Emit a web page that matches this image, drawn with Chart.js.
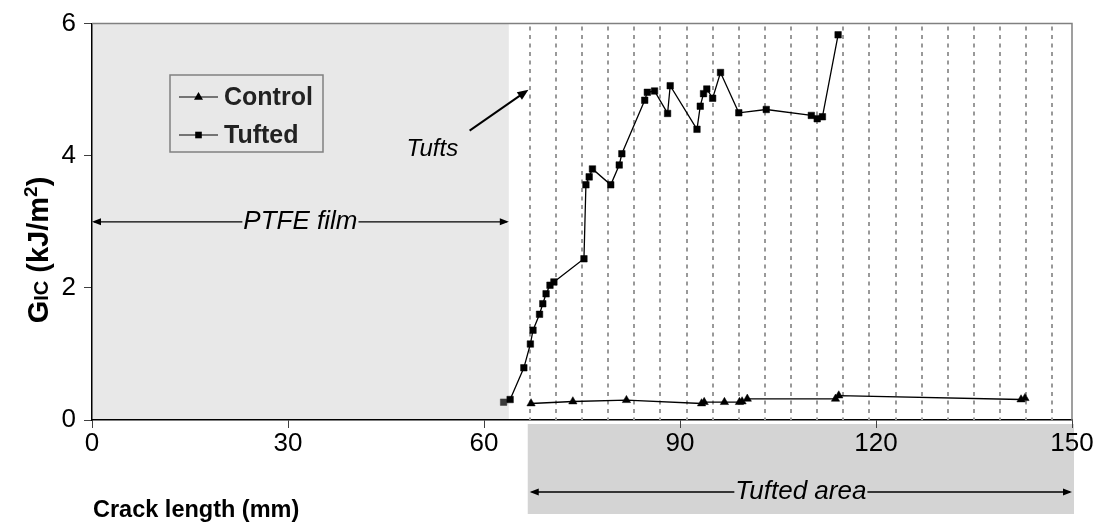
<!DOCTYPE html>
<html><head><meta charset="utf-8">
<script src="https://cdn.jsdelivr.net/npm/chart.js@4/dist/chart.umd.min.js"></script>
<style>html,body{margin:0;padding:0;background:#fff;}#wrap{width:1106px;height:531px;position:relative;}</style>
</head><body><div id="wrap"><canvas id="c" width="1106" height="531" style="width:1106px;height:531px"></canvas></div>
<script>
// ---- data ----
const tuftedX = [63.0,64.0,66.1,67.1,67.5,68.5,69.0,69.5,70.1,70.7,75.3,75.6,76.1,76.6,79.4,80.7,81.1,84.6,85.0,86.1,88.1,88.5,92.6,93.1,93.6,94.1,95.0,96.2,99.0,103.2,110.1,111.0,111.8,114.2];
const tuftedY = [0.27,0.31,0.79,1.15,1.36,1.60,1.76,1.91,2.04,2.09,2.44,3.56,3.68,3.80,3.56,3.86,4.03,4.84,4.96,4.98,4.64,5.06,4.40,4.75,4.94,5.01,4.87,5.26,4.65,4.70,4.61,4.56,4.59,5.83];
const controlX = [67.2,73.6,81.8,93.3,93.7,96.8,99.1,99.5,100.3,113.8,114.3,142.2,142.8];
const controlY = [0.25,0.28,0.30,0.25,0.27,0.27,0.27,0.28,0.32,0.32,0.37,0.31,0.33];
const xTicks = [0,30,60,90,120,150];
const yTicks = [0,2,4,6];
const tuftPositions = [67,71,75,79,83,87,91,95,99,103,107,111,115,119,123,127,131,135,139,143,147];
const ptfeEnd = 63.8;
const tuftedAreaStart = 67;
const seriesNames = ['Control','Tufted'];

const FONT = "'Liberation Sans', Arial, sans-serif";

function arrowHead(ctx, x1, y1, x2, y2, len, half) {
  const a = Math.atan2(y2 - y1, x2 - x1);
  ctx.beginPath();
  ctx.moveTo(x2, y2);
  ctx.lineTo(x2 - len * Math.cos(a) + half * Math.sin(a), y2 - len * Math.sin(a) - half * Math.cos(a));
  ctx.lineTo(x2 - len * Math.cos(a) - half * Math.sin(a), y2 - len * Math.sin(a) + half * Math.cos(a));
  ctx.closePath();
  ctx.fill();
}
function hArrowWithText(ctx, xl, xr, y, text, font) {
  ctx.font = font;
  const w = ctx.measureText(text).width;
  const xm = (xl + xr) / 2;
  ctx.fillStyle = '#000'; ctx.strokeStyle = '#000'; ctx.lineWidth = 1.3;
  ctx.beginPath();
  ctx.moveTo(xl + 2, y); ctx.lineTo(xm - w / 2 - 1, y);
  ctx.moveTo(xm + w / 2 + 1, y); ctx.lineTo(xr - 2, y);
  ctx.stroke();
  arrowHead(ctx, xr - 5, y, xl, y, 9, 3.5);
  arrowHead(ctx, xl + 5, y, xr, y, 9, 3.5);
  ctx.textAlign = 'center'; ctx.textBaseline = 'middle';
  ctx.fillText(text, xm, y);
}

const decor = {
  id: 'decor',
  beforeDraw(chart) {
    const {ctx, chartArea: ca, scales: {x}} = chart;
    ctx.save();
    ctx.fillStyle = '#fff';
    ctx.fillRect(0, 0, chart.width, chart.height);
    ctx.fillStyle = '#e8e8e8';
    const xe = x.getPixelForValue(ptfeEnd);
    ctx.fillRect(ca.left, ca.top, xe - ca.left, ca.bottom - ca.top);
    ctx.fillStyle = '#d4d4d4';
    const xs = x.getPixelForValue(tuftedAreaStart) - 2;
    ctx.fillRect(xs, ca.bottom + 4, ca.right + 2 - xs, 514 - ca.bottom - 4);
    ctx.restore();
  },
  beforeDatasetsDraw(chart) {
    const {ctx, chartArea: ca, scales: {x}} = chart;
    ctx.save();
    ctx.strokeStyle = '#999'; ctx.lineWidth = 2; ctx.setLineDash([4, 4.5]);
    tuftPositions.forEach(v => {
      const px = Math.round(x.getPixelForValue(v));
      ctx.beginPath(); ctx.moveTo(px, ca.top + 3); ctx.lineTo(px, ca.bottom); ctx.stroke();
    });
    ctx.setLineDash([]);
    ctx.strokeStyle = '#808080'; ctx.lineWidth = 1.5;
    ctx.beginPath(); ctx.moveTo(ca.left, ca.top); ctx.lineTo(ca.right, ca.top); ctx.lineTo(ca.right, ca.bottom); ctx.stroke();
    ctx.restore();
  },
  afterDraw(chart) {
    const {ctx, chartArea: ca, scales: {x, y}} = chart;
    ctx.save();
    hArrowWithText(ctx, ca.left, x.getPixelForValue(ptfeEnd), y.getPixelForValue(3), 'PTFE film', 'italic 26px ' + FONT);
    hArrowWithText(ctx, x.getPixelForValue(tuftedAreaStart), ca.right, 492, 'Tufted area', 'italic 26px ' + FONT);
    ctx.font = 'italic 24px ' + FONT; ctx.fillStyle = '#000';
    ctx.textAlign = 'center'; ctx.textBaseline = 'middle';
    ctx.fillText('Tufts', x.getPixelForValue(52.1), y.getPixelForValue(4.1));
    const ax1 = x.getPixelForValue(57.8), ay1 = y.getPixelForValue(4.38);
    const ax2 = x.getPixelForValue(66.8), ay2 = y.getPixelForValue(5.0);
    ctx.strokeStyle = '#000'; ctx.lineWidth = 2;
    ctx.beginPath(); ctx.moveTo(ax1, ay1); ctx.lineTo(ax2 - 6, ay2 + 4.2); ctx.stroke();
    arrowHead(ctx, ax1, ay1, ax2, ay2, 11, 4.5);
    const lx = 170, ly = 75, lw = 153, lh = 77;
    ctx.fillStyle = '#e8e8e8'; ctx.fillRect(lx, ly, lw, lh);
    ctx.strokeStyle = '#808080'; ctx.lineWidth = 1.5; ctx.strokeRect(lx, ly, lw, lh);
    const rows = [{name: seriesNames[0], y: 97, shape: 'tri'}, {name: seriesNames[1], y: 135, shape: 'sq'}];
    rows.forEach(r => {
      ctx.strokeStyle = '#000'; ctx.lineWidth = 1.2;
      ctx.beginPath(); ctx.moveTo(179, r.y); ctx.lineTo(218, r.y); ctx.stroke();
      ctx.fillStyle = '#000';
      if (r.shape === 'tri') {
        ctx.beginPath(); ctx.moveTo(198.5, r.y - 5); ctx.lineTo(203, r.y + 2.8); ctx.lineTo(194, r.y + 2.8); ctx.closePath(); ctx.fill();
      } else {
        ctx.fillRect(195.2, r.y - 3.3, 6.6, 6.6);
      }
      ctx.font = 'bold 25px ' + FONT; ctx.fillStyle = '#222';
      ctx.textAlign = 'left'; ctx.textBaseline = 'middle';
      ctx.fillText(r.name, 224, r.y + 1);
    });
    const parts = [
      {t: 'G', f: 'bold 29px ' + FONT, dy: 0},
      {t: 'IC', f: 'bold 20px ' + FONT, dy: 0},
      {t: ' (kJ/m', f: 'bold 29px ' + FONT, dy: 0},
      {t: '2', f: 'bold 19px ' + FONT, dy: -11},
      {t: ')', f: 'bold 29px ' + FONT, dy: 0}
    ];
    let total = 0;
    parts.forEach(p => { ctx.font = p.f; p.w = ctx.measureText(p.t).width; total += p.w; });
    ctx.translate(48, 250); ctx.rotate(-Math.PI / 2);
    ctx.fillStyle = '#000'; ctx.textAlign = 'left'; ctx.textBaseline = 'alphabetic';
    let cx = -total / 2;
    parts.forEach(p => { ctx.font = p.f; ctx.fillText(p.t, cx, p.dy); cx += p.w; });
    ctx.setTransform(1, 0, 0, 1, 0, 0);
    ctx.font = 'bold 23.5px ' + FONT; ctx.fillStyle = '#000';
    ctx.textAlign = 'left'; ctx.textBaseline = 'middle';
    ctx.fillText('Crack length (mm)', 93, 511);
    ctx.restore();
  }
};

const pts = (xs, ys) => xs.map((v, i) => ({x: v, y: ys[i]}));

new Chart(document.getElementById('c'), {
  type: 'scatter',
  data: {
    datasets: [
      {label: seriesNames[0], data: pts(controlX, controlY), showLine: true, borderColor: '#000', borderWidth: 1.3,
       pointStyle: 'triangle', pointRadius: 4.8, pointBackgroundColor: '#000', pointBorderColor: '#000', pointBorderWidth: 0.5},
      {label: seriesNames[1], data: pts(tuftedX, tuftedY), showLine: true, borderColor: '#000', borderWidth: 1.3,
       pointStyle: 'rect', pointRadius: 4.6, pointBackgroundColor: tuftedX.map((v, i) => i === 0 ? '#3a3a3a' : '#000'),
       pointBorderColor: tuftedX.map((v, i) => i === 0 ? '#3a3a3a' : '#000'), pointBorderWidth: 0.5}
    ]
  },
  options: {
    responsive: false, animation: false, devicePixelRatio: 1,
    layout: {padding: {left: 0, top: 20, right: 34, bottom: 0}},
    plugins: {legend: {display: false}, tooltip: {enabled: false}},
    scales: {
      x: {
        type: 'linear', min: 0, max: 150,
        afterBuildTicks: s => { s.ticks = xTicks.map(v => ({value: v})); },
        afterFit: s => { s.height = 111; },
        grid: {drawOnChartArea: false, drawTicks: true, tickLength: 8, color: '#404040', lineWidth: 1},
        border: {display: true, color: '#000', width: 1.5},
        ticks: {padding: 0, color: '#000', font: {family: FONT, size: 26}, maxRotation: 0, autoSkip: false}
      },
      y: {
        type: 'linear', min: 0, max: 6,
        afterBuildTicks: s => { s.ticks = yTicks.map(v => ({value: v})); },
        afterFit: s => { s.width = 92; },
        grid: {drawOnChartArea: false, drawTicks: true, tickLength: 8, color: '#404040', lineWidth: 1},
        border: {display: true, color: '#000', width: 1.5},
        ticks: {padding: 8, color: '#000', font: {family: FONT, size: 26}}
      }
    }
  },
  plugins: [decor]
});
</script>
</body></html>
